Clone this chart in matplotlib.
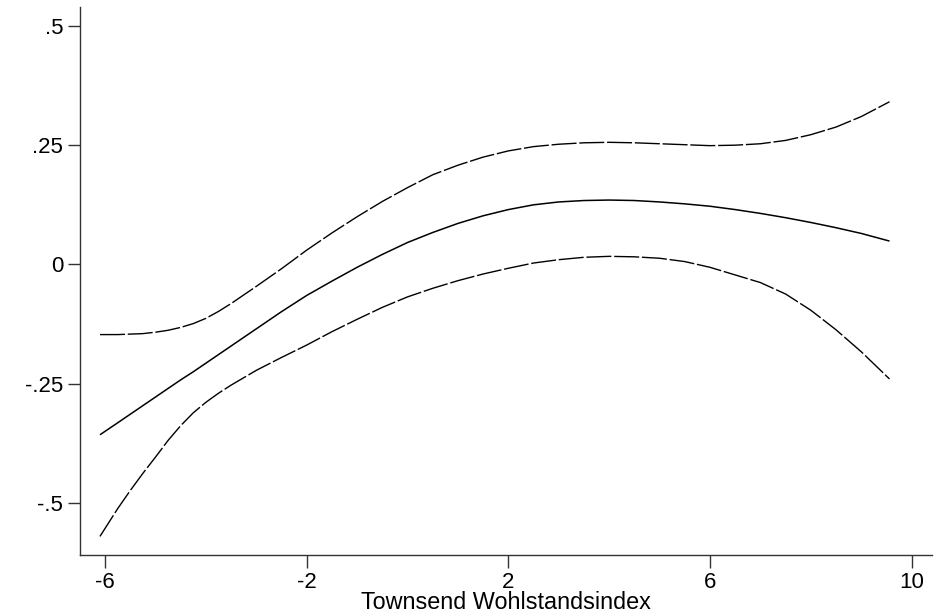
import matplotlib
matplotlib.use("Agg")
import matplotlib.pyplot as plt

x_vals = [-6.1, -5.75, -5.5, -5.25, -5, -4.75, -4.5, -4.25, -4, -3.75, -3.5, -3, -2.5, -2,
          -1.5, -1, -0.5, 0, 0.5, 1, 1.5, 2, 2.5, 3, 3.5, 4, 4.5, 5, 5.5, 6, 6.5, 7, 7.5,
          8, 8.5, 9, 9.56]

fit = [-0.357, -0.332, -0.314, -0.296, -0.278, -0.260, -0.242, -0.225, -0.207, -0.189,
       -0.171, -0.135, -0.099, -0.065, -0.035, -0.006, 0.021, 0.046, 0.067, 0.086, 0.102,
       0.115, 0.125, 0.131, 0.134, 0.135, 0.134, 0.131, 0.127, 0.122, 0.115, 0.107, 0.098,
       0.088, 0.077, 0.065, 0.049]

upper = [-0.147, -0.147, -0.146, -0.145, -0.142, -0.138, -0.132, -0.124, -0.113, -0.0985,
         -0.082, -0.046, -0.009, 0.030, 0.066, 0.100, 0.132, 0.161, 0.188, 0.208, 0.225,
         0.238, 0.247, 0.252, 0.255, 0.256, 0.255, 0.253, 0.251, 0.249, 0.250, 0.253,
         0.260, 0.272, 0.288, 0.310, 0.341]

lower = [-0.570, -0.512, -0.474, -0.438, -0.404, -0.369, -0.338, -0.311, -0.289, -0.270,
         -0.253, -0.222, -0.195, -0.169, -0.141, -0.115, -0.090, -0.068, -0.050, -0.034,
         -0.020, -0.008, 0.003, 0.010, 0.015, 0.017, 0.016, 0.013, 0.006, -0.006, -0.022,
         -0.038, -0.062, -0.096, -0.137, -0.183, -0.240]

x_ticks = [-6, -2, 2, 6, 10]
x_ticklabels = ["-6", "-2", "2", "6", "10"]
y_ticks = [-0.5, -0.25, 0, 0.25, 0.5]
y_ticklabels = ["-.5", "-.25", "0", ".25", ".5"]
x_label = "Townsend Wohlstandsindex"

plt.rcParams['font.family'] = ['Liberation Sans', 'DejaVu Sans']

fig = plt.figure(figsize=(9.4, 6.16), dpi=100)
ax = fig.add_axes([80/940, 61/616, (931.7-80)/940, (555-7.3)/616])

ax.plot(x_vals, fit, color='black', lw=1.1, solid_capstyle='butt')
ax.plot(x_vals, upper, color='black', lw=1.0, linestyle=(0, (18, 2)))
ax.plot(x_vals, lower, color='black', lw=1.0, linestyle=(0, (18, 2)))

ax.set_xlim(-6.496, 10.397)
ax.set_ylim(-0.609, 0.539)
ax.set_xticks(x_ticks)
ax.set_xticklabels(x_ticklabels)
ax.set_yticks(y_ticks)
ax.set_yticklabels(y_ticklabels)
for s in ['top', 'right']:
    ax.spines[s].set_visible(False)
for s in ['left', 'bottom']:
    ax.spines[s].set_color('#333333')
    ax.spines[s].set_linewidth(1.0)
ax.tick_params(axis='both', direction='out', length=9, width=1.0, color='#333333',
               labelsize=16, pad=3)
ax.set_xlabel(x_label, fontsize=16.8, labelpad=-1)

fig.savefig("out.png", dpi=100)
